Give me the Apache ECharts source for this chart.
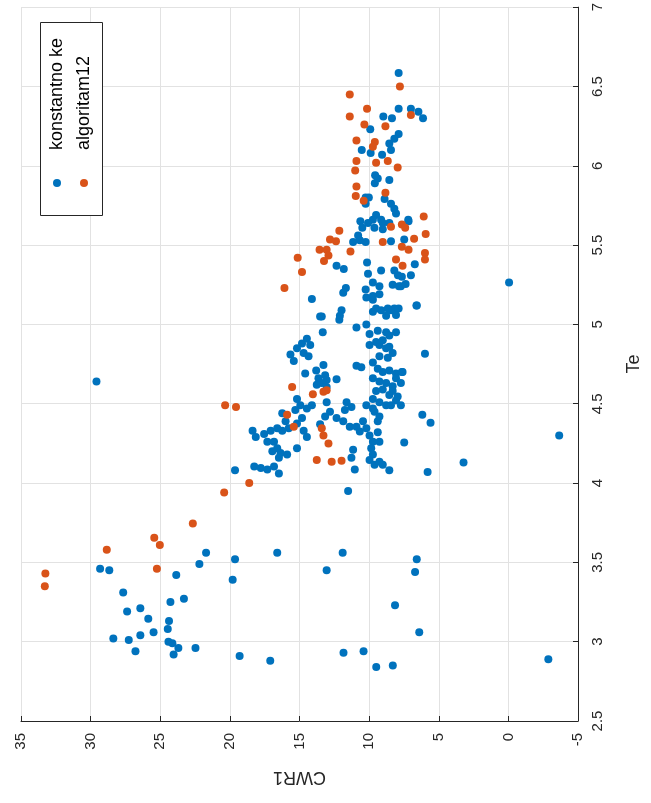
<!DOCTYPE html>
<html><head><meta charset="utf-8">
<script src="https://cdn.jsdelivr.net/npm/echarts@6/dist/echarts.min.js"></script>
<style>html,body{margin:0;padding:0;background:#fff;overflow:hidden}#c{width:651px;height:803px}</style>
</head><body><div id="c"></div>
<script>
// Series names
const seriesNames = ['konstantno ke', 'algoritam12'];
const axisNames = { x: 'CWR1', y: 'Te' };
// Axis ranges / ticks
const cwrRange = [-5, 35], cwrStep = 5;
const teRange = [2.5, 7], teStep = 0.5;

// [CWR1, Te] pairs, series 1 (blue)
const konstantnoKe = [
[29.58,4.64],[19.63,4.08],[21.71,3.56],[22.19,3.49],[29.32,3.46],[28.66,3.45],[19.63,3.52],[19.80,3.39],
[23.85,3.42],[27.66,3.31],[23.30,3.27],[24.27,3.25],[27.38,3.19],[26.43,3.21],[25.86,3.145],[24.37,3.13],
[24.46,3.08],[28.37,3.02],[27.26,3.01],[26.43,3.04],[25.48,3.06],[24.41,3.00],[24.13,2.99],[23.70,2.96],
[24.04,2.92],[26.78,2.94],[22.47,2.96],[19.3,2.91],[17.1,2.88],
[13.05,3.45],[11.9,3.56],[16.6,3.56],[11.84,2.93],[10.4,2.94],[9.49,2.84],[8.3,2.85],[8.14,3.23],
[6.58,3.52],[6.7,3.44],[6.4,3.06],[-2.87,2.89],[-3.65,4.30],[3.22,4.13],[-0.05,5.265],[5.99,4.815],
[6.18,4.43],[5.59,4.38],[7.48,4.255],[5.80,4.07],[7.65,4.70],[7.72,4.49],[6.60,5.12],[8.55,4.08],[11.51,3.95],
[7.88,6.585],[7.88,6.36],[7.0,6.36],[6.46,6.34],[6.13,6.30],[7.88,6.20],[7.17,5.65],[6.72,5.38],[7.0,5.31],
[7.72,5.24],[7.88,5.10],
[8.98,6.31],[8.36,6.30],[9.92,6.23],[8.19,6.17],[10.53,6.10],[9.89,6.08],[9.07,6.07],[8.43,6.10],[8.55,6.14],
[9.57,5.94],[8.55,5.91],[9.59,5.89],[10.25,5.80],[10.25,5.76],[8.89,5.79],[8.43,5.76],[8.19,5.73],[8.07,5.70],
[9.50,5.69],[10.63,5.65],[9.14,5.66],[9.62,5.61],[10.49,5.61],[9.02,5.60],[8.55,5.64],[7.19,5.66],[10.79,5.56],
[10.25,5.52],[11.15,5.52],[8.43,5.525],[7.48,5.535],[12.34,5.37],[11.82,5.35],[10.15,5.39],[9.14,5.34],[8.19,5.34],
[7.65,5.30],[10.08,5.32],[9.73,5.265],[9.26,5.24],[10.25,5.22],[11.67,5.23],[11.86,5.20],[14.11,5.16],[8.31,5.25],
[7.86,5.24],[9.73,5.155],[6.58,5.12],[8.19,5.10],[8.43,5.09],[9.5,5.10],[9.14,5.09],[11.98,5.09],[13.40,5.05],
[12.10,5.055],
[9.38,5.92],[10.02,5.80],[9.73,5.66],[9.02,5.64],[10.08,5.64],[10.67,5.53],[7.93,5.31],[9.26,5.19],[9.73,5.18],
[7.38,5.255],[10.2,5.17],
[13.52,5.05],[13.33,4.95],[12.14,5.03],[10.91,4.98],[10.2,5.0],[9.97,4.94],[9.73,5.08],[8.66,5.10],[8.07,5.06],
[9.38,4.96],[8.78,4.95],[8.07,4.95],[8.78,5.055],[8.55,4.93],[9.26,4.87],[8.78,4.85],
[15.65,4.81],[15.41,4.77],[15.18,4.85],[14.82,4.88],[14.47,4.91],[14.23,4.87],[14.70,4.82],[14.35,4.80],
[13.28,4.745],[13.80,4.71],[13.16,4.68],[13.64,4.66],[14.59,4.69],[13.05,4.65],[12.34,4.655],[10.91,4.74],[10.56,4.73],
[13.76,4.62],[13.40,4.63],[13.05,4.605],[13.52,4.37],
[9.97,4.87],[9.5,4.89],[9.02,4.90],[8.55,4.86],[8.31,4.82],[8.66,4.79],[9.26,4.80],
[9.73,4.76],[9.38,4.72],[9.02,4.70],[8.55,4.71],[8.07,4.69],[7.60,4.70],[8.07,4.66],[7.72,4.63],
[9.73,4.66],[9.26,4.64],[8.78,4.63],[8.31,4.61],[9.02,4.59],[9.50,4.58],[8.55,4.555],[8.07,4.52],[9.73,4.53],
[9.26,4.51],[8.78,4.49],[10.2,4.49],[9.73,4.47],[8.31,4.58],[7.95,4.545],[8.43,4.49],
[11.62,4.51],[11.27,4.48],[11.74,4.46],
[14.11,4.49],[13.05,4.51],[12.81,4.45],[13.16,4.42],
[15.18,4.53],[14.94,4.49],[15.30,4.46],[14.47,4.47],
[16.24,4.44],[16.0,4.39],[15.77,4.345],[16.24,4.33],[15.18,4.375],[14.82,4.41],[14.70,4.33],[14.47,4.29],
[18.37,4.33],[18.14,4.29],[17.54,4.31],[17.07,4.33],[16.60,4.345],
[17.31,4.26],[16.83,4.26],[16.60,4.22],[16.95,4.20],[16.36,4.19],[16.48,4.16],[15.89,4.18],[15.18,4.22],
[18.25,4.105],[17.78,4.095],[17.31,4.085],[16.83,4.105],[16.48,4.06],
[11.15,4.21],[11.27,4.16],[11.03,4.085],
[12.34,4.41],[11.86,4.39],[11.39,4.355],[10.91,4.355],[10.44,4.39],[10.2,4.345],[10.67,4.325],
[9.97,4.30],[9.73,4.26],[9.85,4.22],[9.73,4.18],[9.97,4.145],[9.61,4.115],[9.26,4.135],[9.02,4.115],
[9.38,4.39],[9.61,4.45],[9.26,4.42],[9.38,4.32],[9.26,4.26]
];

// [CWR1, Te] pairs, series 2 (orange)
const algoritam12 = [
[20.34,4.49],[19.56,4.48],[20.41,3.94],[22.66,3.745],[25.43,3.655],[25.03,3.61],[28.84,3.58],[25.24,3.46],
[33.25,3.43],[33.29,3.35],
[7.79,6.50],[7.0,6.32],[7.95,5.99],[6.08,5.68],[5.94,5.57],[6.77,5.54],[7.65,5.63],[5.99,5.45],[5.99,5.41],[7.60,5.37],
[11.39,6.45],[10.15,6.36],[11.39,6.31],[10.34,6.26],[8.83,6.25],[10.91,6.16],[9.59,6.15],[9.73,6.12],[10.91,6.03],
[11.0,5.97],[9.50,6.02],[8.66,6.03],
[10.91,5.87],[8.83,5.83],[10.96,5.81],[10.39,5.78],[8.43,5.615],[9.02,5.52],[7.65,5.49],[7.17,5.47],[7.41,5.61],
[12.14,5.59],[12.81,5.535],[12.38,5.525],[13.56,5.47],[13.05,5.47],[12.92,5.435],[13.24,5.40],[11.34,5.46],
[15.13,5.42],[14.82,5.33],[16.08,5.23],[8.07,5.41],
[15.53,4.605],[14.04,4.56],[13.28,4.575],[13.05,4.585],[15.89,4.43],[15.41,4.355],[18.61,4.0],
[13.76,4.145],[12.69,4.135],[11.98,4.14],[13.40,4.345],[13.28,4.30],[12.92,4.25]
];

const colors = ['#0072BD', '#D95319'];
const font = '"Liberation Sans", Arial, Helvetica, sans-serif';
const ink = '#262626';
const gridColor = '#e2e2e2';

const chart = echarts.init(document.getElementById('c'), null, { renderer: 'canvas' });
chart.setOption({
  animation: false,
  backgroundColor: '#fff',
  grid: { left: 21, right: 66, top: 2, bottom: 82, containLabel: false },
  xAxis: {
    type: 'value', inverse: true, position: 'bottom',
    min: cwrRange[0], max: cwrRange[1], interval: cwrStep,
    name: axisNames.x, nameLocation: 'middle', nameGap: 47, nameRotate: 180,
    nameTextStyle: { fontFamily: font, fontSize: 18, color: ink },
    axisLine: { show: true, onZero: false, lineStyle: { color: ink, width: 1 } },
    axisTick: { show: true, inside: true, length: 5, lineStyle: { color: ink } },
    axisLabel: { rotate: 90, margin: 12, fontFamily: font, fontSize: 15, color: ink },
    splitLine: { show: true, lineStyle: { color: gridColor, width: 1 } }
  },
  yAxis: {
    type: 'value', position: 'right',
    min: teRange[0], max: teRange[1], interval: teStep,
    name: axisNames.y, nameLocation: 'middle', nameGap: 47, nameRotate: 90,
    nameTextStyle: { fontFamily: font, fontSize: 18, color: ink },
    axisLine: { show: true, onZero: false, lineStyle: { color: ink, width: 1 } },
    axisTick: { show: true, inside: true, length: 5, lineStyle: { color: ink } },
    axisLabel: { rotate: 90, margin: 12, fontFamily: font, fontSize: 15, color: ink },
    splitLine: { show: true, lineStyle: { color: gridColor, width: 1 } }
  },
  series: [
    { name: seriesNames[0], type: 'scatter', data: konstantnoKe, symbol: 'circle', symbolSize: 8,
      itemStyle: { color: colors[0], opacity: 1 }, z: 2 },
    { name: seriesNames[1], type: 'scatter', data: algoritam12, symbol: 'circle', symbolSize: 8,
      itemStyle: { color: colors[1], opacity: 1 }, z: 3 }
  ],
  graphic: [
    { type: 'rect', shape: { x: 40.5, y: 22.5, width: 62, height: 193 },
      style: { fill: '#fff', stroke: ink, lineWidth: 1 }, z: 10 },
    { type: 'circle', shape: { cx: 57, cy: 183, r: 4 }, style: { fill: colors[0] }, z: 11 },
    { type: 'circle', shape: { cx: 84, cy: 183, r: 4 }, style: { fill: colors[1] }, z: 11 },
    { type: 'text', x: 57, y: 150, rotation: Math.PI / 2, z: 11,
      style: { text: seriesNames[0], fontFamily: font, fontSize: 18, fill: '#000', align: 'left', verticalAlign: 'middle' } },
    { type: 'text', x: 84, y: 150, rotation: Math.PI / 2, z: 11,
      style: { text: seriesNames[1], fontFamily: font, fontSize: 18, fill: '#000', align: 'left', verticalAlign: 'middle' } }
  ]
});
</script></body></html>
